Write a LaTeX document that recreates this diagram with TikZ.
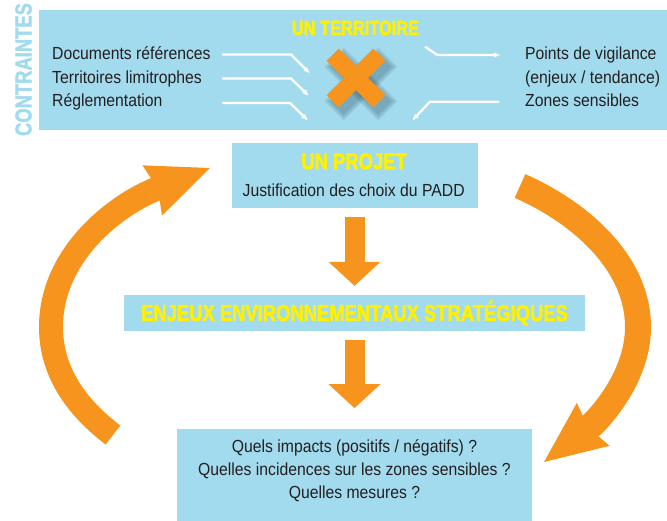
\documentclass[tikz,border=0pt]{standalone}
\usepackage{fontspec}
\setmainfont{Liberation Sans}[FakeStretch=0.9]
\newfontfamily\headfont{Liberation Sans}[FakeStretch=0.8, UprightFont=*-Bold, FakeBold=2]
\usetikzlibrary{arrows.meta}
\definecolor{skyblue}{RGB}{163,219,238}
\definecolor{sunyellow}{RGB}{255,241,0}
\definecolor{loopor}{RGB}{247,148,29}
\definecolor{inkgrey}{RGB}{35,31,32}
\definecolor{shadowgrey}{RGB}{35,65,85}
\tikzset{
	panel/.style={fill=skyblue, inner sep=0pt},
	head/.style={font=\headfont\fontsize{23}{23}\selectfont, text=sunyellow, inner sep=0pt},
	headsmall/.style={head, font=\headfont\fontsize{20.5}{20.5}\selectfont},
	body/.style={font=\fontsize{17.5}{23}\selectfont, text=inkgrey, inner sep=0pt},
	flowarrow/.style={draw=loopor, line width=20pt, -{Triangle[length=24pt,width=52pt,line width=0pt]}},
	looparrow/.style={draw=loopor, -{Stealth[length=62pt,width=54pt,inset=6pt,line width=0pt]}},
	pointer/.style={draw=white, line width=2.3pt, -{Triangle[length=6pt,width=5pt,line width=0pt]}},
}
\def\crossarm[#1](#2,#3)(#4:#5){\fill[#1, rotate around={#4:(#2,#3)}] (#2-33-#5,#3-8.5-#5) rectangle (#2+33+#5,#3+8.5+#5);}

\begin{document}
\begin{tikzpicture}[x=1pt, y=-1pt]
		%%%%% START %%%%%
		\useasboundingbox (0,0) rectangle (667,521);
		
		\node[head, text=skyblue, rotate=90, text height=16.5pt, text depth=0pt] (contr) at (23.2,69.5) {CONTRAINTES};
		
		\node[panel, minimum width=628.5pt, minimum height=120pt] (terr) at (352.75,70) {};
		\node[headsmall, anchor=base] (terrT) at (355.5,35) {UN TERRITOIRE};
		
		\node[body, anchor=base west] (docs) at (52,60) {Documents références};
		\node[body, anchor=base west] (limit) at (52,83.3) {Territoires limitrophes};
		\node[body, anchor=base west] (regl) at (52,106.7) {Réglementation};
		
		\node[body, anchor=base west] (vigil) at (525,60) {Points de vigilance};
		\node[body, anchor=base west] (tend) at (525,83.3) {(enjeux / tendance)};
		\node[body, anchor=base west] (zones) at (525,106.7) {Zones sensibles};
		
		\coordinate (inA) at (222,54.5);
		\coordinate (inB) at (222,78.5);
		\coordinate (inC) at (222,103);
		\draw[pointer] (inA) -- ++(69,0) -- ++(18.5,18.5);
		\draw[pointer] (inB) -- ++(69,0) -- ++(17.5,17);
		\draw[pointer] (inC) -- ++(68,0) -- ++(17.5,17);
		
		\coordinate (outA) at (425,46.7);
		\coordinate (outB) at (499.3,101.7);
		\draw[pointer] (outA) -- ++(12.3,8.3) -- ++(62.7,0);
		\draw[pointer] (outB) -- ++(-69.3,0) -- ++(-17.3,18.3);
		
		\foreach \g in {5,3,1}{
			\crossarm[shadowgrey, opacity=0.12](361,84)(45:\g);
			\crossarm[shadowgrey, opacity=0.12](361,84)(-45:\g);
		}
		\crossarm[loopor](356,78)(45:0);
		\crossarm[loopor](356,78)(-45:0);
		
		\node[panel, minimum width=246pt, minimum height=65pt] (projet) at (354.5,175.2) {};
		\node[head, anchor=base] (projetT) at (354,169.3) {UN PROJET};
		\node[body, anchor=base] (padd) at (353.7,196.7) {Justification des choix du PADD};
		
		\node[panel, minimum width=461pt, minimum height=35.7pt] (enjeux) at (354.5,312.85) {};
		\node[head, anchor=base] (enjeuxT) at (354.5,321) {ENJEUX ENVIRONNEMENTAUX STRATÉGIQUES};
		
		\node[panel, minimum width=355pt, minimum height=92pt] (quest) at (354.5,475) {};
		\node[body, anchor=base] (impacts) at (354.5,452.3) {Quels impacts (positifs / négatifs) ?};
		\node[body, anchor=base] (incid) at (354.5,475.7) {Quelles incidences sur les zones sensibles ?};
		\node[body, anchor=base] (mesures) at (354.5,498.3) {Quelles mesures ?};
		
		\draw[flowarrow, shorten <=9.5pt, shorten >=9pt] (projet.south) -- (enjeux.north);
		\draw[flowarrow, shorten <=9.3pt, shorten >=20.7pt] (enjeux.south) -- (quest.north);
		
		\coordinate (tailL) at (113,435);
		\coordinate (tipL) at (210,168);
		\draw[looparrow, line width=24pt] (tailL) .. controls (80,410) and (51,375) .. (51,327) .. controls (51,255) and (115,205) .. (tipL);
		
		\coordinate (tailR) at (520,186);
		\coordinate (tipR) at (544,462);
		\draw[looparrow, line width=26pt] (tailR) .. controls (575,210) and (638,260) .. (638,327) .. controls (638,380) and (595,423) .. (tipR);
		
		%%%%% END %%%%%
\end{tikzpicture}
\end{document}
